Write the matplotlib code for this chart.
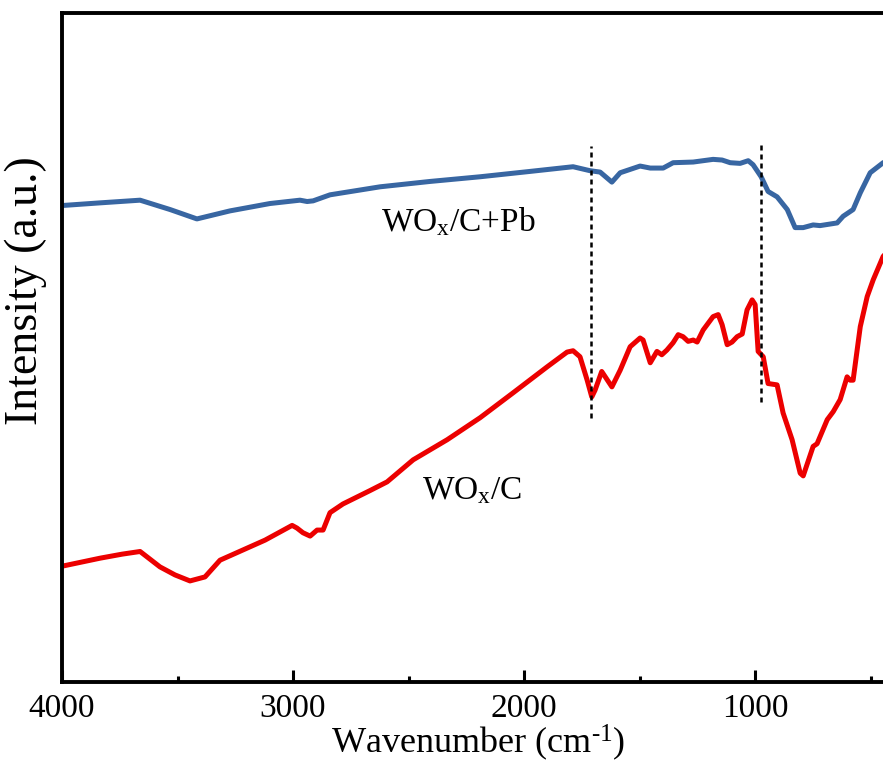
import numpy as np
import matplotlib
import matplotlib.pyplot as plt
from matplotlib.ticker import MultipleLocator

matplotlib.use("Agg")

plt.rcParams['font.family'] = ['Liberation Serif', 'DejaVu Serif']
plt.rcParams['mathtext.fontset'] = 'custom'
plt.rcParams['mathtext.rm'] = 'Liberation Serif'
plt.rcParams['mathtext.default'] = 'regular'

# WOx/C+Pb spectrum (wavenumber, intensity a.u.)
wn_pb = [4000, 3835, 3662, 3532, 3416, 3273, 3100, 2970, 2939, 2913, 2840, 2623,
         2407, 2190, 1974, 1788, 1714, 1671, 1620, 1584, 1498, 1454, 1398, 1355,
         1268, 1182, 1143, 1108, 1065, 1030, 1009, 974, 944, 905, 861, 827, 792,
         749, 719, 645, 619, 576, 545, 502, 446, 400]
int_pb = [71.2, 71.6, 72.0, 70.6, 69.2, 70.4, 71.5, 72.0, 71.8, 71.9, 72.8, 74.0,
          74.8, 75.5, 76.3, 77.0, 76.4, 76.2, 74.7, 76.1, 77.1, 76.8, 76.8, 77.6,
          77.7, 78.1, 78.0, 77.6, 77.5, 77.9, 77.3, 75.5, 73.3, 72.5, 70.6, 67.9, 67.9,
          68.3, 68.2, 68.6, 69.6, 70.6, 73.1, 76.1, 77.6, 78.2]

# WOx/C spectrum
wn_c = [4000, 3835, 3740, 3662, 3576, 3511, 3446, 3381, 3316, 3121, 3004, 2983, 2957,
        2926, 2896, 2870, 2840, 2784, 2667, 2593, 2480, 2333, 2190, 2048, 1900,
        1814, 1788, 1758, 1727, 1707, 1693, 1664, 1620, 1584, 1541, 1498, 1485,
        1454, 1425, 1404, 1382, 1355, 1333, 1312, 1290, 1268, 1251, 1225, 1182,
        1160, 1143, 1121, 1100, 1078, 1056, 1035, 1013, 1000, 987, 965, 944, 905,
        879, 840, 805, 792, 749, 732, 688, 662, 632, 602, 589, 576, 545, 515, 489,
        446, 400]
int_c = [17.3, 18.5, 19.1, 19.5, 17.2, 16.0, 15.1, 15.7, 18.2, 21.2, 23.4, 23.0, 22.3,
         21.8, 22.7, 22.7, 25.3, 26.6, 28.6, 29.9, 33.2, 36.2, 39.5, 43.2, 47.1,
         49.3, 49.5, 48.6, 45.1, 42.6, 43.6, 46.4, 44.1, 46.6, 50.1, 51.4, 51.1,
         47.7, 49.4, 48.9, 49.6, 50.7, 51.9, 51.6, 50.9, 51.1, 50.8, 52.6, 54.6,
         54.9, 53.4, 50.4, 50.8, 51.6, 52.0, 55.6, 57.1, 56.4, 49.4, 48.6, 44.6, 44.4,
         40.2, 36.2, 31.2, 30.8, 35.2, 35.6, 39.2, 40.4, 42.2, 45.6, 45.1, 45.1, 53.1,
         57.6, 60.1, 63.6, 65.3]

# marker lines
mark_wn = [1711, 974]
mark_top = [80.1, 80.8]
mark_bottom = [39.5, 41.9]

fig = plt.figure(figsize=(8.83, 7.63), dpi=100)
ax = fig.add_axes([0.0702, 0.1062, 0.942, 0.877])

ax.plot(wn_pb, int_pb, color="#3866a2", lw=3.6, solid_joinstyle='round')
ax.plot(wn_c, int_c, color="#ec0000", lw=3.6, solid_joinstyle='round')

for w, t, b in zip(mark_wn, mark_top, mark_bottom):
    ax.plot([w, w], [b, t], color="black", lw=1.8, linestyle=(0, (2, 1.6)))

ax.text(2285, 68.8, r"WO$_{x}$/C+Pb", fontsize=24, ha="center", va="center")
ax.text(2225, 28.6, r"WO$_{x}$/C", fontsize=24, ha="center", va="center")

ax.set_xlim(4000, 400)
ax.set_ylim(0, 100)
ax.xaxis.set_major_locator(MultipleLocator(1000))
ax.xaxis.set_minor_locator(MultipleLocator(500))
ax.set_yticks([])

for s in ax.spines.values():
    s.set_linewidth(2.8)

ax.tick_params(axis="x", which="major", direction="in", length=8.5, width=2.2,
               labelsize=24, pad=8, top=False)
ax.tick_params(axis="x", which="minor", direction="in", length=4.3, width=2.2, top=False)

ax.set_xlabel("Wavenumber (cm$^{\u2010 1}$)", fontsize=26, labelpad=-1)
ax.set_ylabel("Intensity (a.u.)", fontsize=33)
ax.yaxis.set_label_coords(-0.018, 0.585)

fig.savefig("out.png", dpi=100, facecolor="white")
plt.close(fig)
